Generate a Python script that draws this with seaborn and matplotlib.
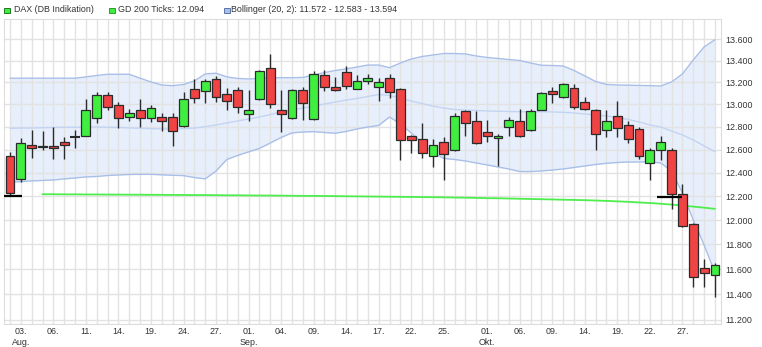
import numpy as np
import pandas as pd
import matplotlib
matplotlib.use("Agg")
import matplotlib.pyplot as plt
import seaborn as sns
from matplotlib.ticker import FixedLocator, FuncFormatter, NullLocator
from matplotlib.patches import Rectangle

# ---------------- data ----------------
opens = [12540, 12350, 12640, 12620, 12630, 12670, 12710, 12720, 12880, 13080,
         12990, 12890, 12950, 12880, 12890, 12890, 12810, 13140, 13120, 13230,
         13090, 13130, 12910, 13050, 13330, 12950, 12880, 13130, 12870, 13270,
         13160, 13290, 13140, 13210, 13160, 13240, 13140, 12720, 12690, 12540,
         12670, 12600, 12940, 12850, 12750, 12700, 12800, 12850, 12770, 12950,
         13120, 13070, 13150, 13020, 12950, 12770, 12900, 12820, 12780, 12480,
         12600, 12600, 12220, 11970, 11610, 11550]
highs = [12580, 12700, 12770, 12760, 12800, 12710, 12770, 13050, 13110, 13110,
         13020, 12960, 13050, 12990, 12920, 12920, 13110, 13230, 13230, 13260,
         13150, 13160, 13130, 13310, 13460, 13130, 13140, 13160, 13300, 13310,
         13250, 13350, 13270, 13280, 13240, 13280, 13145, 12730, 12830, 12690,
         12710, 12920, 12950, 12940, 12860, 12740, 12890, 12960, 12960, 13110,
         13160, 13190, 13180, 13070, 12960, 12950, 13030, 12850, 12800, 12610,
         12720, 12610, 12300, 11980, 11680, 11650]
lows = [12200, 12320, 12530, 12600, 12520, 12520, 12610, 12720, 12830, 12950,
        12790, 12850, 12800, 12840, 12760, 12630, 12800, 13010, 13010, 13020,
        12950, 12920, 12850, 13040, 12970, 12750, 12870, 12860, 12860, 13120,
        13120, 13140, 13140, 13180, 13030, 13060, 12510, 12570, 12530, 12450,
        12340, 12590, 12720, 12650, 12670, 12460, 12720, 12710, 12760, 12950,
        13010, 13060, 12960, 12950, 12600, 12710, 12710, 12660, 12520, 12340,
        12510, 12090, 11940, 11460, 11460, 11380]
closes = [12230, 12660, 12610, 12630, 12615, 12640, 12710, 12950, 13080, 12980,
          12880, 12920, 12880, 12970, 12850, 12760, 13050, 13060, 13210, 13070,
          13030, 12980, 12950, 13300, 13000, 12910, 13130, 13010, 13280, 13160,
          13130, 13170, 13210, 13240, 13200, 13110, 12680, 12680, 12570, 12640,
          12560, 12900, 12830, 12660, 12720, 12720, 12860, 12720, 12940, 13100,
          13090, 13180, 12980, 12960, 12740, 12850, 12790, 12690, 12540, 12600,
          12670, 12220, 11950, 11540, 11570, 11630]

bb_upper = [13237, 13237, 13237, 13237, 13237, 13237, 13237, 13249, 13262, 13273,
            13273, 13273, 13237, 13203, 13175, 13169, 13180, 13212, 13276, 13283,
            13249, 13235, 13230, 13235, 13240, 13242, 13242, 13244, 13266, 13289,
            13308, 13322, 13340, 13358, 13358, 13334, 13377, 13414, 13437, 13451,
            13465, 13465, 13461, 13442, 13428, 13419, 13409, 13400, 13377, 13356,
            13354, 13350, 13308, 13258, 13207, 13180, 13175, 13173, 13171, 13169,
            13166, 13203, 13276, 13405, 13526, 13594]
bb_mid = [12787, 12789, 12789, 12792, 12794, 12796, 12796, 12798, 12798, 12796,
          12794, 12790, 12787, 12784, 12781, 12781, 12783, 12789, 12801, 12816,
          12834, 12852, 12869, 12887, 12909, 12932, 12949, 12967, 12985, 13003,
          13021, 13039, 13053, 13071, 13089, 13080, 13057, 13030, 13007, 12985,
          12967, 12954, 12949, 12945, 12941, 12938, 12936, 12934, 12934, 12934,
          12932, 12929, 12923, 12914, 12905, 12896, 12883, 12865, 12843, 12816,
          12798, 12763, 12728, 12684, 12632, 12583]
bb_lower = [12321, 12324, 12330, 12334, 12338, 12347, 12355, 12364, 12368, 12376,
            12381, 12385, 12386, 12386, 12382, 12378, 12375, 12359, 12347, 12415,
            12514, 12549, 12580, 12610, 12657, 12706, 12746, 12754, 12757, 12750,
            12743, 12759, 12781, 12798, 12812, 12887, 12825, 12746, 12657, 12571,
            12523, 12514, 12501, 12484, 12467, 12449, 12432, 12410, 12410, 12415,
            12423, 12432, 12445, 12458, 12471, 12481, 12488, 12492, 12492, 12495,
            12484, 12415, 12228, 12002, 11796, 11572]
nan = float("nan")
gd200 = [nan, nan, nan,
         12217, 12217, 12216, 12216, 12215, 12215,
         12214, 12214, 12213, 12213, 12212, 12212, 12211, 12211,
         12210, 12210, 12209, 12208, 12208, 12207, 12206, 12206,
         12205, 12204, 12203, 12203, 12202, 12201, 12200, 12199, 12198, 12197,
         12196, 12195, 12194, 12193, 12192, 12191, 12189, 12188, 12186, 12184,
         12183, 12181, 12179, 12177, 12175, 12173, 12171, 12169, 12167, 12164,
         12161, 12157, 12153, 12148, 12143, 12137, 12130, 12122, 12113, 12104, 12094]

# black level marks: (start index, end index, level)
level_marks = [(-0.74, 1.1, 12205), (59.65, 61.95, 12196)]

x_tick_pos = [1, 4, 7, 10, 13, 16, 19, 22, 25, 28, 31, 34, 37, 40, 44, 47, 50, 53, 56, 59, 62]
x_tick_labels = ["03.\nAug.", "06.", "11.", "14.", "19.", "24.", "27.", "01.\nSep.", "04.",
                 "09.", "14.", "17.", "22.", "25.", "01.\nOkt.", "06.", "09.", "14.",
                 "19.", "22.", "27."]
y_ticks = [11200, 11400, 11600, 11800, 12000, 12200, 12400, 12600, 12800,
           13000, 13200, 13400, 13600]

legend_texts = ["DAX (DB Indikation)", "GD 200 Ticks: 12.094",
                "Bollinger (20, 2): 11.572 - 12.583 - 13.594"]

# ---------------- styling ----------------
sns.set_theme(style="white")
plt.rcParams['font.family'] = ['Liberation Sans', 'DejaVu Sans']

RED = "#f04343"
GREEN = "#3fee3f"
EDGE = "#2b2b2b"
GRID = "#e2e2e2"
BAND_LINE = "#a9bfe8"
BAND_MID = "#c3d4f2"
BAND_FILL = "#e8effc"
GD_COLOR = "#4ded4d"
TXT = "#333333"
FS = 6.4

df = pd.DataFrame({"idx": np.arange(len(closes)), "open": opens, "high": highs,
                   "low": lows, "close": closes, "upper": bb_upper, "mid": bb_mid,
                   "lower": bb_lower, "gd200": gd200})

W, H = 762, 347
fig = plt.figure(figsize=(W / 100, H / 100), dpi=100)
ax = fig.add_axes([4 / W, (H - 324) / H, (720.7 - 4) / W, (324 - 19) / H])

# Bollinger band fill + lines
ax.fill_between(df["idx"], df["lower"], df["upper"], color=BAND_FILL, lw=0, zorder=0.2)
sns.lineplot(data=df, x="idx", y="upper", ax=ax, color=BAND_LINE, lw=1.0, zorder=1)
sns.lineplot(data=df, x="idx", y="lower", ax=ax, color=BAND_LINE, lw=1.0, zorder=1)
sns.lineplot(data=df, x="idx", y="mid", ax=ax, color=BAND_MID, lw=1.0, zorder=1)

# GD 200
sns.lineplot(data=df.dropna(subset=["gd200"]), x="idx", y="gd200", ax=ax,
             color=GD_COLOR, lw=1.3, zorder=1.5)

# candles
ax.vlines(df["idx"], df["low"], df["high"], color=EDGE, lw=1.0, zorder=3)
body_lo = np.minimum(df["open"], df["close"])
body_h = np.abs(df["close"] - df["open"])
up = df["close"] > df["open"]
down = df["close"] < df["open"]
doji = df["close"] == df["open"]
ax.bar(df["idx"][up], body_h[up], bottom=body_lo[up], width=0.82,
       color=GREEN, edgecolor=EDGE, linewidth=0.9, zorder=4)
ax.bar(df["idx"][down], body_h[down], bottom=body_lo[down], width=0.82,
       color=RED, edgecolor=EDGE, linewidth=0.9, zorder=4)
ax.hlines(df["close"][doji], df["idx"][doji] - 0.45, df["idx"][doji] + 0.45,
          color=EDGE, lw=1.5, zorder=4)

# level marks
for x0, x1, lvl in level_marks:
    ax.hlines(lvl, x0, x1, color="black", lw=1.6, zorder=5)

# axes
ax.set_yscale("log")
ax.set_ylim(11169, 13790)
ax.set_xlim(-0.55, 65.53)
ax.yaxis.set_major_locator(FixedLocator(y_ticks))
ax.yaxis.set_minor_locator(NullLocator())
ax.yaxis.set_major_formatter(FuncFormatter(lambda v, p: f"{v:,.0f}".replace(",", ".")))
ax.yaxis.tick_right()
ax.set_xticks(x_tick_pos)
ax.set_xticklabels(x_tick_labels)
ax.set_xticks(df["idx"], minor=True)
ax.tick_params(axis="y", which="both", length=0, pad=3, labelsize=FS, colors=TXT)
ax.tick_params(axis="x", which="both", length=0, pad=2.5, labelsize=FS, colors=TXT)
for lab in ax.get_xticklabels():
    lab.set_linespacing(1.25)
ax.set_xlabel("")
ax.set_ylabel("")
ax.grid(True, which="both", axis="x", color=GRID, lw=1.0)
ax.grid(True, which="major", axis="y", color=GRID, lw=1.0)
ax.set_axisbelow(True)
for s in ax.spines.values():
    s.set_color("#dcdcdc")
    s.set_linewidth(0.8)

# legend row
sq = [(4, GREEN, "#1f7a1f"), (109, GREEN, "#2f9a2f"), (224, "#a8bfe8", "#5d74a8")]
tx = [14, 118, 231]
for (sx, fc, ec), tx_, t in zip(sq, tx, legend_texts):
    fig.patches.append(Rectangle((sx / W, (H - 13) / H), 5.5 / W, 5.5 / H,
                                 transform=fig.transFigure, facecolor=fc,
                                 edgecolor=ec, linewidth=0.7))
    fig.text(tx_ / W, (H - 10) / H, t, fontsize=FS, color=TXT, va="center", ha="left")

fig.savefig("out.png", dpi=100)
